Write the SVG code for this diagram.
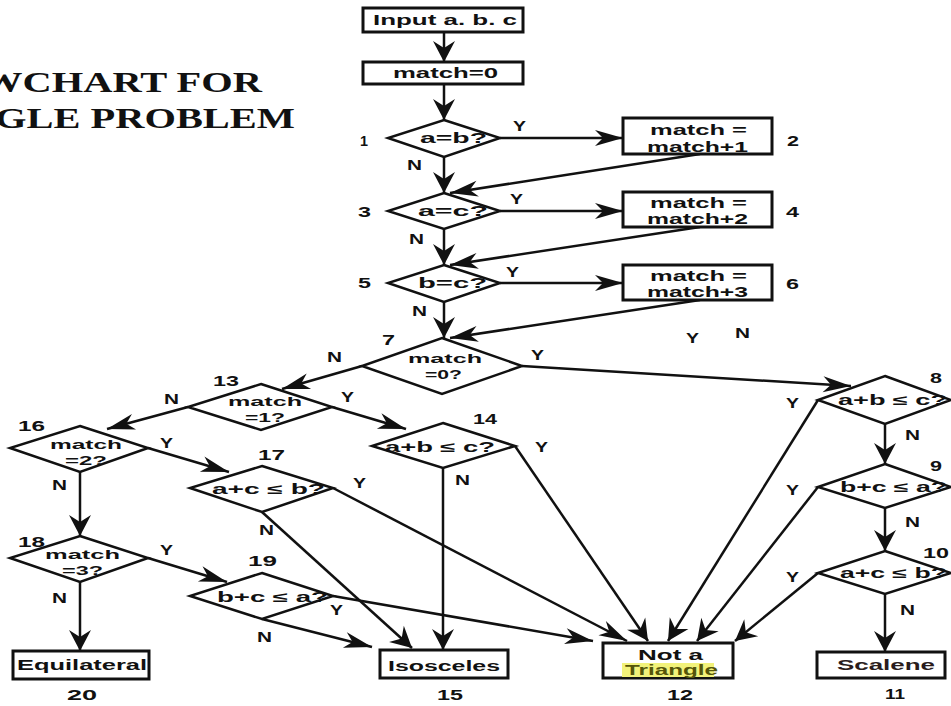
<svg xmlns="http://www.w3.org/2000/svg" width="951" height="706" viewBox="0 0 951 706">
<defs>
<style>
.n{fill:#fff;stroke:#111;stroke-width:3}
.d{fill:#fff;stroke:#111;stroke-width:2.5}
.c{fill:none;stroke:#111;stroke-width:2.5}
.t{font-family:"Liberation Sans",Arial,sans-serif;font-weight:bold;font-size:14px;fill:#111}
.t2{font-family:"Liberation Sans",Arial,sans-serif;font-weight:bold;font-size:13px;fill:#111}
.s{font-family:"Liberation Sans",Arial,sans-serif;font-weight:bold;font-size:14px;fill:#111}
.title{font-family:"Liberation Serif","Times New Roman",serif;font-weight:bold;font-size:30px;fill:#111}
</style>
<marker id="ah" markerUnits="userSpaceOnUse" viewBox="-30 -10 31 20" refX="0" refY="0" markerWidth="31" markerHeight="20" orient="auto" overflow="visible">
<path d="M0,0 L-28,-8 L-20,0 L-28,8 Z" fill="#111"/>
</marker>
<marker id="av" markerUnits="userSpaceOnUse" viewBox="-22 -12 23 24" refX="0" refY="0" markerWidth="23" markerHeight="24" orient="auto" overflow="visible">
<path d="M0,0 L-21,-11 L-14,0 L-21,11 Z" fill="#111"/>
</marker>
</defs>
<rect width="951" height="706" fill="#fff"/>
<g id="title">
<text class="title" x="-18" y="92" textLength="280" lengthAdjust="spacingAndGlyphs">WCHART FOR</text>
<text class="title" x="-5" y="128" textLength="300" lengthAdjust="spacingAndGlyphs">GLE PROBLEM</text>
</g>
<g id="connectors">
<path class="c" d="M444,32 L444,62" marker-end="url(#av)"/>
<path class="c" d="M444,84 L444,120" marker-end="url(#av)"/>
<path class="c" d="M500,138 L623,138" marker-end="url(#ah)"/>
<path class="c" d="M444,157 L444,193" marker-end="url(#av)"/>
<path class="c" d="M700,154 L450,193" marker-end="url(#ah)"/>
<path class="c" d="M500,211 L623,211" marker-end="url(#ah)"/>
<path class="c" d="M444,229 L444,265" marker-end="url(#av)"/>
<path class="c" d="M700,227 L450,265" marker-end="url(#ah)"/>
<path class="c" d="M500,283 L623,283" marker-end="url(#ah)"/>
<path class="c" d="M444,302 L444,338" marker-end="url(#av)"/>
<path class="c" d="M700,300 L450,338" marker-end="url(#ah)"/>
<path class="c" d="M362,366 L282,389" marker-end="url(#ah)"/>
<path class="c" d="M522,366 L851,386" marker-end="url(#ah)"/>
<path class="c" d="M188,407 L107,429" marker-end="url(#ah)"/>
<path class="c" d="M332,407 L406,429" marker-end="url(#ah)"/>
<path class="c" d="M148,448 L229,472" marker-end="url(#ah)"/>
<path class="c" d="M80,472 L80,536" marker-end="url(#av)"/>
<path class="c" d="M148,558 L227,582" marker-end="url(#ah)"/>
<path class="c" d="M80,582 L80,651" marker-end="url(#av)"/>
<path class="c" d="M262,512 L412,648" marker-end="url(#av)"/>
<path class="c" d="M262,619 L372,647" marker-end="url(#ah)"/>
<path class="c" d="M443,468 L443,650" marker-end="url(#av)"/>
<path class="c" d="M333,488 L627,641" marker-end="url(#ah)"/>
<path class="c" d="M333,596 L593,641" marker-end="url(#ah)"/>
<path class="c" d="M515,446 L648,641" marker-end="url(#av)"/>
<path class="c" d="M818,400 L668,641" marker-end="url(#av)"/>
<path class="c" d="M818,487 L697,641" marker-end="url(#av)"/>
<path class="c" d="M818,573 L735,641" marker-end="url(#av)"/>
<path class="c" d="M885,424 L885,464" marker-end="url(#av)"/>
<path class="c" d="M885,508 L885,551" marker-end="url(#av)"/>
<path class="c" d="M885,594 L885,652" marker-end="url(#av)"/>
</g>
<g id="edge-labels">
<text class="s" x="513" y="131" textLength="13" lengthAdjust="spacingAndGlyphs">Y</text>
<text class="s" x="407" y="170" textLength="15" lengthAdjust="spacingAndGlyphs">N</text>
<text class="s" x="510" y="204" textLength="13" lengthAdjust="spacingAndGlyphs">Y</text>
<text class="s" x="409" y="244" textLength="15" lengthAdjust="spacingAndGlyphs">N</text>
<text class="s" x="506" y="277" textLength="13" lengthAdjust="spacingAndGlyphs">Y</text>
<text class="s" x="412" y="316" textLength="15" lengthAdjust="spacingAndGlyphs">N</text>
<text class="s" x="327" y="362" textLength="15" lengthAdjust="spacingAndGlyphs">N</text>
<text class="s" x="531" y="360" textLength="13" lengthAdjust="spacingAndGlyphs">Y</text>
<text class="s" x="164" y="404" textLength="15" lengthAdjust="spacingAndGlyphs">N</text>
<text class="s" x="341" y="402" textLength="13" lengthAdjust="spacingAndGlyphs">Y</text>
<text class="s" x="160" y="448" textLength="13" lengthAdjust="spacingAndGlyphs">Y</text>
<text class="s" x="52" y="490" textLength="15" lengthAdjust="spacingAndGlyphs">N</text>
<text class="s" x="353" y="488" textLength="13" lengthAdjust="spacingAndGlyphs">Y</text>
<text class="s" x="259" y="535" textLength="15" lengthAdjust="spacingAndGlyphs">N</text>
<text class="s" x="535" y="452" textLength="13" lengthAdjust="spacingAndGlyphs">Y</text>
<text class="s" x="455" y="485" textLength="15" lengthAdjust="spacingAndGlyphs">N</text>
<text class="s" x="160" y="555" textLength="13" lengthAdjust="spacingAndGlyphs">Y</text>
<text class="s" x="52" y="603" textLength="15" lengthAdjust="spacingAndGlyphs">N</text>
<text class="s" x="330" y="615" textLength="13" lengthAdjust="spacingAndGlyphs">Y</text>
<text class="s" x="257" y="642" textLength="15" lengthAdjust="spacingAndGlyphs">N</text>
<text class="s" x="786" y="408" textLength="13" lengthAdjust="spacingAndGlyphs">Y</text>
<text class="s" x="905" y="440" textLength="15" lengthAdjust="spacingAndGlyphs">N</text>
<text class="s" x="786" y="495" textLength="13" lengthAdjust="spacingAndGlyphs">Y</text>
<text class="s" x="905" y="527" textLength="15" lengthAdjust="spacingAndGlyphs">N</text>
<text class="s" x="786" y="582" textLength="13" lengthAdjust="spacingAndGlyphs">Y</text>
<text class="s" x="900" y="615" textLength="15" lengthAdjust="spacingAndGlyphs">N</text>
<text class="s" x="686" y="343" textLength="13" lengthAdjust="spacingAndGlyphs">Y</text>
<text class="s" x="735" y="338" textLength="15" lengthAdjust="spacingAndGlyphs">N</text>
</g>
<g id="input">
<rect class="n" x="363" y="8" width="160" height="24"/>
<text class="t" x="373" y="25" textLength="144" lengthAdjust="spacingAndGlyphs">Input a. b. c</text>
</g>
<g id="init">
<rect class="n" x="363" y="62" width="160" height="22"/>
<text class="t" x="393" y="78" textLength="105" lengthAdjust="spacingAndGlyphs">match=0</text>
</g>
<g id="n1">
<text class="s" x="360" y="146" textLength="8" lengthAdjust="spacingAndGlyphs">1</text>
<polygon class="d" points="444,120 500,138 444,157 388,138"/>
<text class="t" x="420" y="143" textLength="67" lengthAdjust="spacingAndGlyphs">a=b?</text>
</g>
<g id="n2">
<rect class="n" x="623" y="118" width="149" height="36"/>
<text class="t" x="650" y="135" textLength="97" lengthAdjust="spacingAndGlyphs">match =</text>
<text class="t" x="647" y="152" textLength="101" lengthAdjust="spacingAndGlyphs">match+1</text>
<text class="s" x="787" y="146" textLength="12" lengthAdjust="spacingAndGlyphs">2</text>
</g>
<g id="n3">
<text class="s" x="358" y="217" textLength="13" lengthAdjust="spacingAndGlyphs">3</text>
<polygon class="d" points="444,193 500,211 444,229 388,211"/>
<text class="t" x="418" y="216" textLength="70" lengthAdjust="spacingAndGlyphs">a=c?</text>
</g>
<g id="n4">
<rect class="n" x="623" y="192" width="149" height="35"/>
<text class="t" x="650" y="208" textLength="97" lengthAdjust="spacingAndGlyphs">match =</text>
<text class="t" x="647" y="224" textLength="101" lengthAdjust="spacingAndGlyphs">match+2</text>
<text class="s" x="786" y="217" textLength="13" lengthAdjust="spacingAndGlyphs">4</text>
</g>
<g id="n5">
<text class="s" x="358" y="288" textLength="13" lengthAdjust="spacingAndGlyphs">5</text>
<polygon class="d" points="444,265 500,283 444,302 388,283"/>
<text class="t" x="418" y="288" textLength="69" lengthAdjust="spacingAndGlyphs">b=c?</text>
</g>
<g id="n6">
<rect class="n" x="623" y="265" width="149" height="35"/>
<text class="t" x="650" y="281" textLength="97" lengthAdjust="spacingAndGlyphs">match =</text>
<text class="t" x="647" y="297" textLength="101" lengthAdjust="spacingAndGlyphs">match+3</text>
<text class="s" x="786" y="289" textLength="13" lengthAdjust="spacingAndGlyphs">6</text>
</g>
<g id="n7">
<text class="s" x="382" y="345" textLength="13" lengthAdjust="spacingAndGlyphs">7</text>
<polygon class="d" points="442,338 522,366 442,394 362,366"/>
<text class="t2" x="408" y="363" textLength="74" lengthAdjust="spacingAndGlyphs">match</text>
<text class="t2" x="425" y="379" textLength="37" lengthAdjust="spacingAndGlyphs">=0?</text>
</g>
<g id="n13">
<text class="s" x="213" y="386" textLength="26" lengthAdjust="spacingAndGlyphs">13</text>
<polygon class="d" points="261,384 332,407 261,430 188,407"/>
<text class="t2" x="228" y="406" textLength="74" lengthAdjust="spacingAndGlyphs">match</text>
<text class="t2" x="245" y="422" textLength="40" lengthAdjust="spacingAndGlyphs">=1?</text>
</g>
<g id="n16">
<text class="s" x="18" y="431" textLength="27" lengthAdjust="spacingAndGlyphs">16</text>
<polygon class="d" points="80,426 148,448 80,472 10,448"/>
<text class="t2" x="50" y="449" textLength="72" lengthAdjust="spacingAndGlyphs">match</text>
<text class="t2" x="65" y="465" textLength="42" lengthAdjust="spacingAndGlyphs">=2?</text>
</g>
<g id="n18">
<text class="s" x="18" y="547" textLength="27" lengthAdjust="spacingAndGlyphs">18</text>
<polygon class="d" points="80,536 148,558 80,582 10,558"/>
<text class="t2" x="45" y="559" textLength="75" lengthAdjust="spacingAndGlyphs">match</text>
<text class="t2" x="62" y="575" textLength="41" lengthAdjust="spacingAndGlyphs">=3?</text>
</g>
<g id="n14">
<text class="s" x="473" y="424" textLength="24" lengthAdjust="spacingAndGlyphs">14</text>
<polygon class="d" points="443,423 515,446 443,468 372,446"/>
<text class="t" x="385" y="452" textLength="110" lengthAdjust="spacingAndGlyphs">a+b ≤ c?</text>
</g>
<g id="n17">
<text class="s" x="258" y="460" textLength="27" lengthAdjust="spacingAndGlyphs">17</text>
<polygon class="d" points="262,466 333,488 262,512 190,488"/>
<text class="t" x="212" y="494" textLength="113" lengthAdjust="spacingAndGlyphs">a+c ≤ b?</text>
</g>
<g id="n19">
<text class="s" x="248" y="566" textLength="29" lengthAdjust="spacingAndGlyphs">19</text>
<polygon class="d" points="262,573 333,596 262,619 190,596"/>
<text class="t" x="217" y="602" textLength="111" lengthAdjust="spacingAndGlyphs">b+c ≤ a?</text>
</g>
<g id="n8">
<text class="s" x="930" y="383" textLength="12" lengthAdjust="spacingAndGlyphs">8</text>
<polygon class="d" points="885,376 951,400 885,424 818,400"/>
<text class="t" x="838" y="405" textLength="109" lengthAdjust="spacingAndGlyphs">a+b ≤ c?</text>
</g>
<g id="n9">
<text class="s" x="930" y="471" textLength="12" lengthAdjust="spacingAndGlyphs">9</text>
<polygon class="d" points="885,464 951,487 885,508 818,487"/>
<text class="t" x="840" y="492" textLength="107" lengthAdjust="spacingAndGlyphs">b+c ≤ a?</text>
</g>
<g id="n10">
<text class="s" x="923" y="558" textLength="26" lengthAdjust="spacingAndGlyphs">10</text>
<polygon class="d" points="885,551 951,573 885,594 818,573"/>
<text class="t" x="840" y="578" textLength="107" lengthAdjust="spacingAndGlyphs">a+c ≤ b?</text>
</g>
<g id="n20">
<rect class="n" x="13" y="651" width="136" height="28"/>
<text class="t" x="17" y="670" textLength="130" lengthAdjust="spacingAndGlyphs">Equilateral</text>
<text class="s" x="67" y="700" textLength="30" lengthAdjust="spacingAndGlyphs">20</text>
</g>
<g id="n15">
<rect class="n" x="380" y="650" width="128" height="28"/>
<text class="t" x="388" y="671" textLength="112" lengthAdjust="spacingAndGlyphs">Isosceles</text>
<text class="s" x="437" y="700" textLength="26" lengthAdjust="spacingAndGlyphs">15</text>
</g>
<g id="n12">
<rect class="n" x="603" y="643" width="130" height="35"/>
<rect x="622" y="663" width="92" height="14" fill="#f2f27a"/>
<text class="t" x="638" y="660" textLength="65" lengthAdjust="spacingAndGlyphs">Not a</text>
<text class="t" x="625" y="675" textLength="93" lengthAdjust="spacingAndGlyphs" style="fill:#55550a">Triangle</text>
<text class="s" x="667" y="700" textLength="26" lengthAdjust="spacingAndGlyphs">12</text>
</g>
<g id="n11">
<rect class="n" x="817" y="652" width="128" height="26"/>
<text class="t" x="837" y="670" textLength="98" lengthAdjust="spacingAndGlyphs" style="fill:#2a1c1c">Scalene</text>
<text class="s" x="885" y="699" textLength="20" lengthAdjust="spacingAndGlyphs">11</text>
</g>
</svg>
